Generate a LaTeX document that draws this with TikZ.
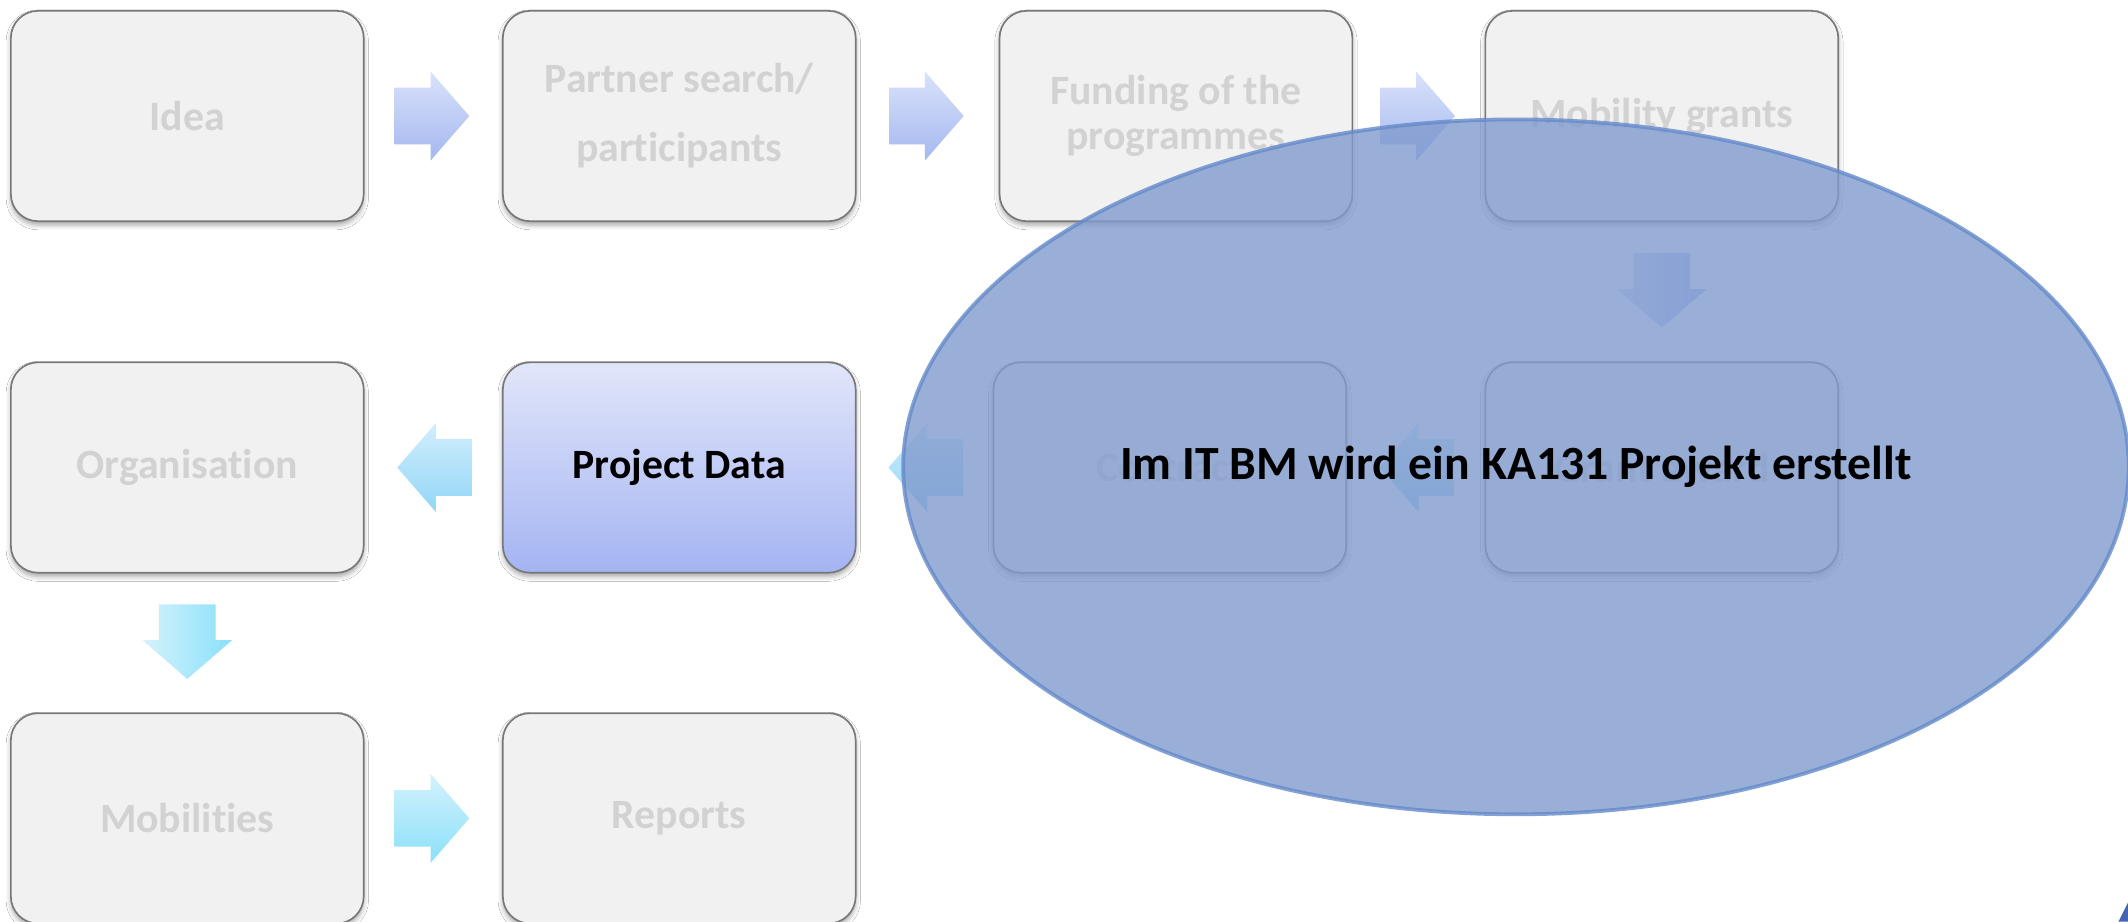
\documentclass[tikz,border=0pt]{standalone}
\usepackage{fontspec}
\setmainfont{Carlito}[Ligatures=NoCommon]
\usetikzlibrary{calc,shapes.geometric,shapes.arrows,shadows.blur}

\definecolor{boxfill}{RGB}{241,241,241}
\definecolor{boxline}{RGB}{120,120,120}
\definecolor{boxtext}{RGB}{210,210,210}
\definecolor{pdtop}{RGB}{226,230,250}
\definecolor{pdbot}{RGB}{164,180,242}
\definecolor{lavtop}{RGB}{218,226,250}
\definecolor{lavbot}{RGB}{164,184,240}
\definecolor{cyantop}{RGB}{210,238,252}
\definecolor{cyanbot}{RGB}{146,214,248}
\definecolor{skytop}{RGB}{212,242,252}
\definecolor{skybot}{RGB}{138,224,250}
\definecolor{bubblefill}{RGB}{129,155,206}
\definecolor{bubbleline}{RGB}{100,138,202}
\definecolor{logoblue}{RGB}{68,102,176}

\tikzset{
  stepbox/.style={draw=boxline, line width=0.7pt, fill=boxfill, rounded corners=4mm,
    minimum width=52mm, minimum height=31mm, text=boxtext, align=center,
    font=\fontsize{17.5}{19}\selectfont\bfseries,
    blur shadow={shadow xshift=0pt, shadow yshift=-1.6pt, shadow blur radius=2pt, shadow opacity=35}},
  flowarrow/.style={single arrow, draw=none, inner xsep=0pt, inner ysep=4.1mm,
    minimum height=11mm, single arrow head extend=2.4mm, single arrow tip angle=98},
  rightarrow/.style={flowarrow, xshift=-2mm, top color=#1top, bottom color=#1bot},
  leftarrow/.style={flowarrow, shape border rotate=180, xshift=2mm, top color=#1top, bottom color=#1bot},
  downarrow/.style={flowarrow, yshift=2mm, rotate=-90, left color=#1top, right color=#1bot},
}

\begin{document}
\begin{tikzpicture}[x=0.2mm,y=0.2mm]
		%%%%% START %%%%%
		\useasboundingbox[fill=white] (0,0) rectangle (1568,679);
		
		% first row
		\node[stepbox] (idea) at (138,593.5) {Idea};
		\node[stepbox] (partner) at (500.5,593.5) {Partner search/\\[10pt]participants};
		\node[stepbox] (funding) at (866.5,593.5) {Funding of the\\programmes};
		\node[stepbox] (grants) at (1224.5,593.5) {Mobility grants};
		
		% second row
		\node[stepbox] (orga) at (138,334.5) {Organisation};
		\node[stepbox, top color=pdtop, bottom color=pdbot, text=black] (projdata) at (500.5,334.5) {Project Data};
		\node[stepbox] (contract) at (862,334.5) {Contract};
		\node[stepbox] (award) at (1224.5,334.5) {Grant award};
		
		% third row
		\node[stepbox] (mobil) at (138,76) {Mobilities};
		\node[stepbox] (reports) at (500.5,76) {Reports};
		
		% arrows
		\node[rightarrow=lav] (a1) at ($(idea.east)!0.5!(partner.west)$) {};
		\node[rightarrow=lav] (a2) at ($(partner.east)!0.5!(funding.west)$) {};
		\node[rightarrow=lav] (a3) at ($(funding.east)!0.5!(grants.west)$) {};
		\node[downarrow=lav] (a4) at ($(grants.south)!0.5!(award.north)$) {};
		\node[leftarrow=cyan] (a5) at ($(award.west)!0.5!(contract.east)$) {};
		\node[leftarrow=cyan] (a6) at ($(contract.west)!0.5!(projdata.east)$) {};
		\node[leftarrow=cyan] (a7) at ($(projdata.west)!0.5!(orga.east)$) {};
		\node[downarrow=sky] (a8) at ($(orga.south)!0.5!(mobil.north)$) {};
		\node[rightarrow=sky] (a9) at ($(mobil.east)!0.5!(reports.west)$) {};
		
		% the note on top
		\node[ellipse, minimum width=180.6mm, minimum height=102.4mm, inner sep=0pt,
		  fill=bubblefill, fill opacity=0.8, draw=bubbleline, draw opacity=0.8, line width=1.6pt,
		  text opacity=1, text=black, font=\fontsize{20}{24}\selectfont\bfseries] (note) at (1117,335)
		  {Im IT BM wird ein KA131 Projekt erstellt};
		
		\fill[logoblue] (1561,0) -- (1568,14) -- (1568,0) -- cycle;
		%%%%% END %%%%%
\end{tikzpicture}
\end{document}
